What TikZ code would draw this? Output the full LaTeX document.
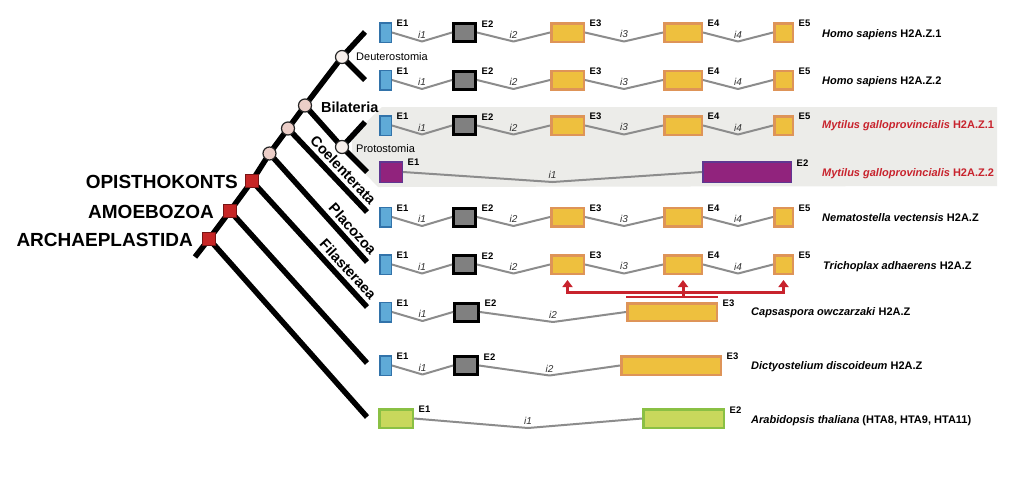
\documentclass[tikz,border=0pt]{standalone}
\usepackage{fontspec}
\setmainfont{Liberation Sans}
\usetikzlibrary{arrows.meta,calc}
\definecolor{exblue}{RGB}{95,170,215}
\definecolor{exbluedk}{RGB}{50,115,170}
\definecolor{exgray}{RGB}{128,128,128}
\definecolor{exgold}{RGB}{238,192,62}
\definecolor{exgolddk}{RGB}{222,148,88}
\definecolor{expurp}{RGB}{145,35,125}
\definecolor{expurpdk}{RGB}{95,55,145}
\definecolor{exgreen}{RGB}{200,216,92}
\definecolor{exgreendk}{RGB}{138,192,68}
\definecolor{intgray}{RGB}{140,140,140}
\definecolor{panel}{RGB}{236,236,233}
\definecolor{myred}{RGB}{200,35,45}
\definecolor{sqred}{RGB}{198,38,38}
\definecolor{sqreddk}{RGB}{120,20,20}
\definecolor{circpink}{RGB}{236,206,200}
\definecolor{circlight}{RGB}{248,240,236}
\tikzset{
 exon/.style={draw, rectangle, inner sep=0pt},
 bluex/.style={exon, fill=exblue, draw=exbluedk, line width=1.5pt, minimum width=11.5pt, minimum height=19.5pt},
 grayx/.style={exon, fill=exgray, draw=black, line width=3pt, minimum height=18pt},
 goldx/.style={exon, fill=exgold, draw=exgolddk, line width=2.5pt, minimum height=18.5pt},
 purpx/.style={exon, fill=expurp, draw=expurpdk, line width=1.5pt, minimum height=20.5pt},
 greenx/.style={exon, fill=exgreen, draw=exgreendk, line width=2.5pt, minimum height=18.5pt},
 intron/.style={draw=intgray, line width=2pt, line join=round},
 ilab/.style={font=\fontsize{10}{12}\selectfont\itshape, text=black!80, inner sep=0pt, anchor=south, yshift=2.5pt},
 elab/.style={font=\fontsize{9.5}{11}\selectfont\bfseries, inner sep=0pt, anchor=west},
 splab/.style={font=\fontsize{11}{13}\selectfont\bfseries, inner sep=0pt, anchor=base west},
 branch/.style={line width=5.5pt, line join=round},
 tnode/.style={circle, draw=black!85, line width=1.2pt, minimum size=13pt, inner sep=0pt},
 rsq/.style={rectangle, fill=sqred, draw=sqreddk, line width=1pt, minimum size=13pt, inner sep=0pt},
 cladelab/.style={font=\fontsize{14.5}{17}\selectfont\bfseries, inner xsep=0pt, inner ysep=3.5pt, pos=1, sloped, anchor=south east},
 biglab/.style={font=\fontsize{19}{22}\selectfont\bfseries, inner sep=0pt, anchor=east},
 smlab/.style={font=\fontsize{11}{13}\selectfont, inner sep=0pt, anchor=west},
 redln/.style={draw=myred, line width=3pt},
}
\newcommand\intr[4][9]{\draw[intron] (#2.east) -- ($(#2.east)!.5!(#3.west)+(0,#1)$) node[ilab] (#2i) {#4} -- (#3.west);}
\newcommand\exlab[2]{\node[elab] (#1l) at ($(#1.north east)+(4.5,1.7)$) {#2};}
\newcommand\stdrow[2]{%
 \node[bluex] (#1a) at (385.5,#2) {};
 \node[grayx, minimum width=22pt] (#1b) at (464.5,#2) {};
 \node[goldx, minimum width=32.5pt] (#1c) at (567.5,#2) {};
 \node[goldx, minimum width=37.5pt] (#1d) at (683,#2) {};
 \node[goldx, minimum width=18.5pt] (#1e) at (783.5,#2) {};
 \intr{#1a}{#1b}{i1}
 \intr{#1b}{#1c}{i2}
 \intr{#1c}{#1d}{i3}
 \intr{#1d}{#1e}{i4}
 \exlab{#1a}{E1}\exlab{#1b}{E2}\exlab{#1c}{E3}\exlab{#1d}{E4}\exlab{#1e}{E5}}
\begin{document}
\begin{tikzpicture}[x=1pt,y=-1pt]
\useasboundingbox (0,0) rectangle (1024,477);
\fill[white] (0,0) rectangle (1024,477);
\fill[panel] (382,107) -- (997,107) -- (997,186) -- (378,187) -- (352,160) -- (352,136) -- cycle;
% tree
\coordinate (root) at (195,257);
\coordinate (nA) at (209,239);
\coordinate (nB) at (230,211);
\coordinate (nC) at (252,181);
\coordinate (nD) at (269.5,153.5);
\coordinate (nE) at (288,128.5);
\coordinate (nF) at (305,105.5);
\coordinate (nG) at (342,57);
\coordinate (nH) at (342,147);
\coordinate (l1) at (365,32);
\coordinate (l2) at (365,80);
\coordinate (l3) at (365,122);
\coordinate (l4) at (367,172);
\coordinate (l5) at (367,212);
\coordinate (l6) at (367,262);
\coordinate (l7) at (367,307);
\coordinate (l8) at (367,363);
\coordinate (l9) at (367,417);
\draw[branch] (root) -- (nA) -- (nB) -- (nC) -- (nD) -- (nE) -- (nF) -- (nG) -- (l1);
\draw[branch] (nG) -- (l2);
\draw[branch] (nF) -- (nH);
\draw[branch] (nH) -- (l3);
\draw[branch] (nH) -- (l4);
\draw[branch] (nE) -- (l5) node[cladelab] (tCoel) {Coelenterata};
\draw[branch] (nD) -- (l6) node[cladelab] (tPla) {Placozoa};
\draw[branch] (nC) -- (l7) node[cladelab] (tFil) {Filasteraea};
\draw[branch] (nB) -- (l8);
\draw[branch] (nA) -- (l9);
\node[rsq] (sqA) at (nA) {};
\node[rsq] (sqB) at (nB) {};
\node[rsq] (sqC) at (nC) {};
\node[tnode, fill=circpink] (cD) at (nD) {};
\node[tnode, fill=circpink] (cE) at (nE) {};
\node[tnode, fill=circpink] (cF) at (nF) {};
\node[tnode, fill=circlight] (cG) at (nG) {};
\node[tnode, fill=circlight] (cH) at (nH) {};
\node[biglab] (lbOpi) at (238,182) {OPISTHOKONTS};
\node[biglab] (lbAmo) at (214,212) {AMOEBOZOA};
\node[biglab] (lbArc) at (193,240) {ARCHAEPLASTIDA};
\node[font=\fontsize{14.5}{17}\selectfont\bfseries, inner sep=0pt, anchor=west] (lbBil) at (321,107) {Bilateria};
\node[smlab] (lbDeu) at (356,57) {Deuterostomia};
\node[smlab] (lbPro) at (356,148.5) {Protostomia};
% gene structures
\stdrow{ra}{32.5}
\stdrow{rb}{80}
\stdrow{rc}{125.5}
\node[purpx, minimum width=22.5pt] (rda) at (391,172) {};
\node[purpx, minimum width=88.5pt] (rdb) at (747,172) {};
\intr[10]{rda}{rdb}{i1}
\exlab{rda}{E1}\exlab{rdb}{E2}
\stdrow{re}{217}
\stdrow{rf}{264.5}
\node[bluex] (rga) at (385.5,312) {};
\node[grayx, minimum width=24pt] (rgb) at (466.5,312) {};
\node[goldx, minimum width=89.5pt, minimum height=17.5pt] (rgc) at (672,312) {};
\intr{rga}{rgb}{i1}
\intr[10]{rgb}{rgc}{i2}
\exlab{rga}{E1}\exlab{rgb}{E2}\exlab{rgc}{E3}
\node[bluex] (rha) at (385.5,365.5) {};
\node[grayx, minimum width=23pt] (rhb) at (466,365.5) {};
\node[goldx, minimum width=99.5pt] (rhc) at (671,365.5) {};
\intr{rha}{rhb}{i1}
\intr[10]{rhb}{rhc}{i2}
\exlab{rha}{E1}\exlab{rhb}{E2}\exlab{rhc}{E3}
\node[greenx, minimum width=33.5pt] (ria) at (396,418.5) {};
\node[greenx, minimum width=80.5pt] (rib) at (683.5,418.5) {};
\intr[9.5]{ria}{rib}{i1}
\exlab{ria}{E1}\exlab{rib}{E2}
% red arrows
\coordinate (brL) at (567.5,292);
\coordinate (brR) at (783.5,292);
\draw[myred, line width=1.8pt] ([yshift=5pt]rgc.north west) -- ([yshift=5pt]rgc.north east);
\draw[redln, {Triangle[width=10pt,length=7pt]}-{Triangle[width=10pt,length=7pt]}] ([yshift=-5pt]rfc.south) -- (brL) -- (brR) -- ([yshift=-5pt]rfe.south);
\draw[redln, -{Triangle[width=10pt,length=7pt]}] ([yshift=5pt]rfd.south |- rgc.north) -- ([yshift=-5pt]rfd.south);
% species labels
\node[splab] (sa) at (822,37) {\textit{Homo sapiens} H2A.Z.1};
\node[splab] (sb) at (822,84) {\textit{Homo sapiens} H2A.Z.2};
\node[splab, text=myred] (sc) at (822,128.5) {\textit{Mytilus galloprovincialis} H2A.Z.1};
\node[splab, text=myred] (sd) at (822,176.5) {\textit{Mytilus galloprovincialis} H2A.Z.2};
\node[splab] (se) at (822,221) {\textit{Nematostella vectensis} H2A.Z};
\node[splab] (sf) at (823,269) {\textit{Trichoplax adhaerens} H2A.Z};
\node[splab] (sg) at (751,315) {\textit{Capsaspora owczarzaki} H2A.Z};
\node[splab] (sh) at (751,369) {\textit{Dictyostelium discoideum} H2A.Z};
\node[splab] (si) at (751,423) {\textit{Arabidopsis thaliana} (HTA8, HTA9, HTA11)};
\end{tikzpicture}
\end{document}
